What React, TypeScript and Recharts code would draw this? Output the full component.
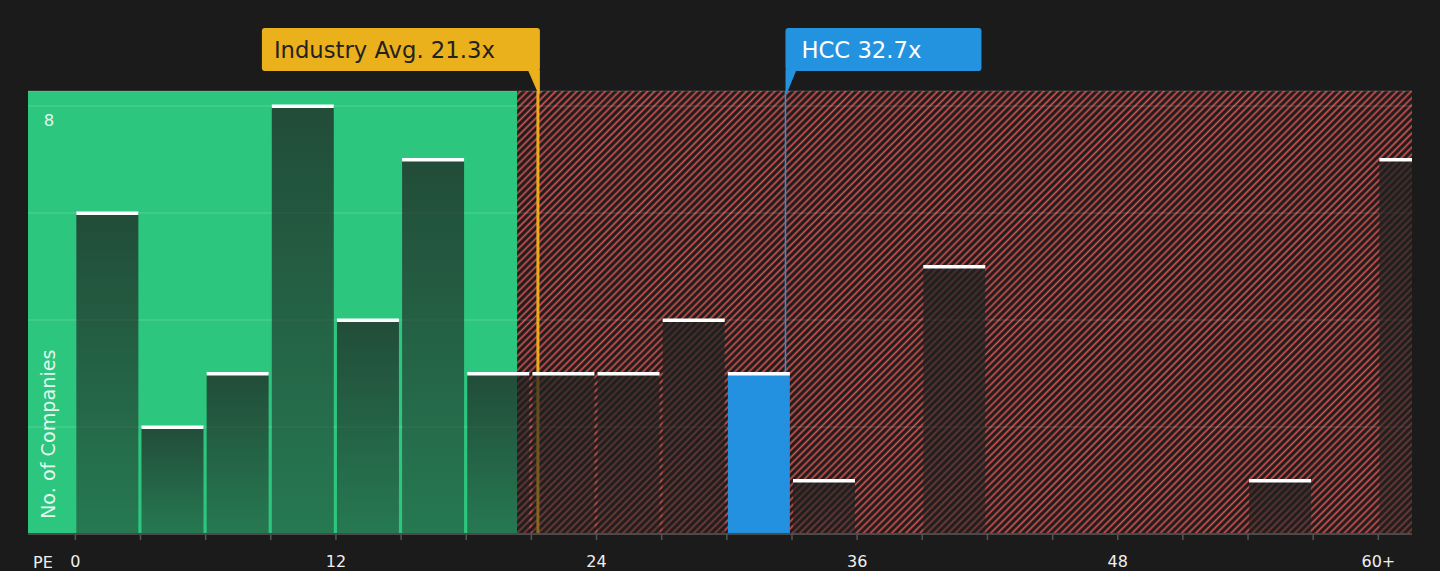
import React from 'react';
import {
  ComposedChart,
  Bar,
  XAxis,
  YAxis,
  CartesianGrid,
  ReferenceArea,
  ReferenceLine,
} from 'recharts';

// ---- data ----
const binStarts = [0, 3, 6, 9, 12, 15, 18, 21, 24, 27, 30, 33, 36, 39, 42, 45, 48, 51, 54, 57, 60];
const binCounts = [6, 2, 3, 8, 4, 7, 3, 3, 3, 4, 3, 1, 0, 5, 0, 0, 0, 0, 1, 0, 7];
const binWidth = 3;
const companyName = 'HCC';
const companyPE = 32.7;
const industryAvg = 21.3;
const fairZoneEnd = 20.34;
const xDomain: [number, number] = [-2.18, 61.55];
const yDomain: [number, number] = [0, 8.28];
const xTicks = [0, 3, 6, 9, 12, 15, 18, 21, 24, 27, 30, 33, 36, 39, 42, 45, 48, 51, 54, 57, 60];
const xLabelTicks = [0, 12, 24, 36, 48, 60];
const yTicks = [0, 2, 4, 6, 8];
const yLabelTicks = [8];

const data = binStarts.map((s, i) => ({
  x: s + binWidth / 2,
  count: binCounts[i],
  company: companyPE >= s && companyPE < s + binWidth,
}));

const FONT = '"DejaVu Sans", sans-serif';
const W = 1440;
const H = 571;
const MARGIN = { top: 91, right: 28, bottom: 7, left: 27 };

const BarShape = (props: any) => {
  const { x, y, width, height, payload } = props;
  if (!payload || !payload.count) return <g />;
  const fill = payload.company ? '#2391e0' : 'url(#barGrad)';
  return (
    <g>
      <rect x={x - 1} y={y} width={width} height={height} fill={fill} />
      <rect x={x - 1} y={y - 1.5} width={width} height={3.5} fill="#ffffff" />
    </g>
  );
};

const IndustryLabel = (props: any) => {
  const vb = props.viewBox || {};
  const lx = vb.x;
  const top = vb.y;
  return (
    <g>
      <rect x={lx - 276} y={top - 63} width={278} height={43} rx={3} fill="#eab11c" />
      <polygon
        points={`${lx - 10},${top - 21} ${lx + 2},${top - 21} ${lx + 2},${top + 2} ${lx},${top + 2}`}
        fill="#eab11c"
      />
      <text
        x={lx - 264}
        y={top - 41}
        dominantBaseline="central"
        fontSize={22.7}
        fill="#222222"
        fontFamily={FONT}
      >
        {`Industry Avg. ${industryAvg}x`}
      </text>
    </g>
  );
};

const CompanyLabel = (props: any) => {
  const vb = props.viewBox || {};
  const lx = vb.x;
  const top = vb.y;
  return (
    <g>
      <rect x={lx} y={top - 63} width={196} height={43} rx={3} fill="#2393e0" />
      <polygon
        points={`${lx},${top - 21} ${lx + 11},${top - 21} ${lx + 1.5},${top + 2} ${lx},${top + 2}`}
        fill="#2393e0"
      />
      <text
        x={lx + 16}
        y={top - 41}
        dominantBaseline="central"
        fontSize={22.7}
        fill="#ffffff"
        fontFamily={FONT}
      >
        {`${companyName} ${companyPE}x`}
      </text>
    </g>
  );
};

const YTick = (props: any) => {
  const { y, payload } = props;
  if (!yLabelTicks.includes(payload.value)) return <g />;
  return (
    <text
      x={MARGIN.left + 22}
      y={y + 15}
      textAnchor="middle"
      dominantBaseline="central"
      fontSize={16.5}
      fill="rgba(255,255,255,0.88)"
      fontFamily={FONT}
    >
      {payload.value}
    </text>
  );
};

const YLabel = (props: any) => {
  const vb = props.viewBox || {};
  const lx = MARGIN.left + 21;
  const ly = vb.y + vb.height - 15;
  return (
    <text
      x={lx}
      y={ly}
      transform={`rotate(-90 ${lx} ${ly})`}
      dominantBaseline="central"
      textAnchor="start"
      fontSize={19.2}
      fill="rgba(255,255,255,0.88)"
      fontFamily={FONT}
    >
      No. of Companies
    </text>
  );
};

const XLabel = (props: any) => {
  const vb = props.viewBox || {};
  return (
    <text
      x={vb.x + 15}
      y={vb.y + 28}
      textAnchor="middle"
      dominantBaseline="central"
      fontSize={16}
      fill="#f0f0f0"
      fontFamily={FONT}
    >
      PE
    </text>
  );
};

export default function App() {
  return (
    <div
      style={{
        position: 'absolute',
        left: 0,
        top: 0,
        width: W,
        height: H,
        background: '#1b1b1b',
        fontFamily: FONT,
      }}
    >
      <ComposedChart width={W} height={H} data={data} margin={MARGIN}>
        <defs>
          <pattern id="hatch" patternUnits="userSpaceOnUse" width="5" height="5" patternTransform="rotate(45)">
            <rect x="0" y="0" width="5" height="5" fill="#1c1b1b" />
            <line x1="2.5" y1="0" x2="2.5" y2="5" stroke="#d65350" strokeWidth="1.7" />
          </pattern>
          <linearGradient id="barGrad" x1="0" y1="0" x2="0" y2="1">
            <stop offset="0" stopColor="#1e2220" stopOpacity={0.74} />
            <stop offset="1" stopColor="#1e2220" stopOpacity={0.47} />
          </linearGradient>
        </defs>
        <ReferenceArea
          x1={xDomain[0]}
          x2={fairZoneEnd}
          fill="#2dc67e"
          fillOpacity={1}
          stroke="none"
          ifOverflow="visible"
          zIndex={100}
        />
        <ReferenceArea
          x1={fairZoneEnd}
          x2={xDomain[1]}
          fill="url(#hatch)"
          fillOpacity={1}
          stroke="none"
          ifOverflow="visible"
          zIndex={100}
        />
        <CartesianGrid vertical={false} stroke="rgba(255,255,255,0.12)" strokeWidth={1.5} zIndex={150} />
        <ReferenceLine
          x={industryAvg}
          stroke="#eea91e"
          strokeWidth={3}
          label={IndustryLabel}
          zIndex={250}
        />
        <ReferenceLine
          x={companyPE}
          stroke="#2393e0"
          strokeWidth={1.5}
          label={CompanyLabel}
          zIndex={250}
        />
        <Bar dataKey="count" barSize={62} shape={BarShape} isAnimationActive={false} zIndex={300} />
        <XAxis
          type="number"
          dataKey="x"
          domain={xDomain}
          allowDataOverflow
          ticks={xTicks}
          interval={0}
          tickFormatter={(v: number) => (xLabelTicks.includes(v) ? (v === 60 ? '60+' : String(v)) : '')}
          axisLine={{ stroke: '#4a4a4a', strokeWidth: 2 }}
          tickLine={{ stroke: '#555555', strokeWidth: 1.5 }}
          tickSize={6}
          tickMargin={16}
          tick={{ fill: '#f0f0f0', fontSize: 16, fontFamily: FONT }}
          height={30}
          label={XLabel}
          zIndex={500}
        />
        <YAxis
          type="number"
          domain={yDomain}
          allowDataOverflow
          ticks={yTicks}
          interval={0}
          width={1}
          axisLine={false}
          tickLine={false}
          tick={YTick}
          label={YLabel}
          zIndex={500}
        />
      </ComposedChart>
    </div>
  );
}
